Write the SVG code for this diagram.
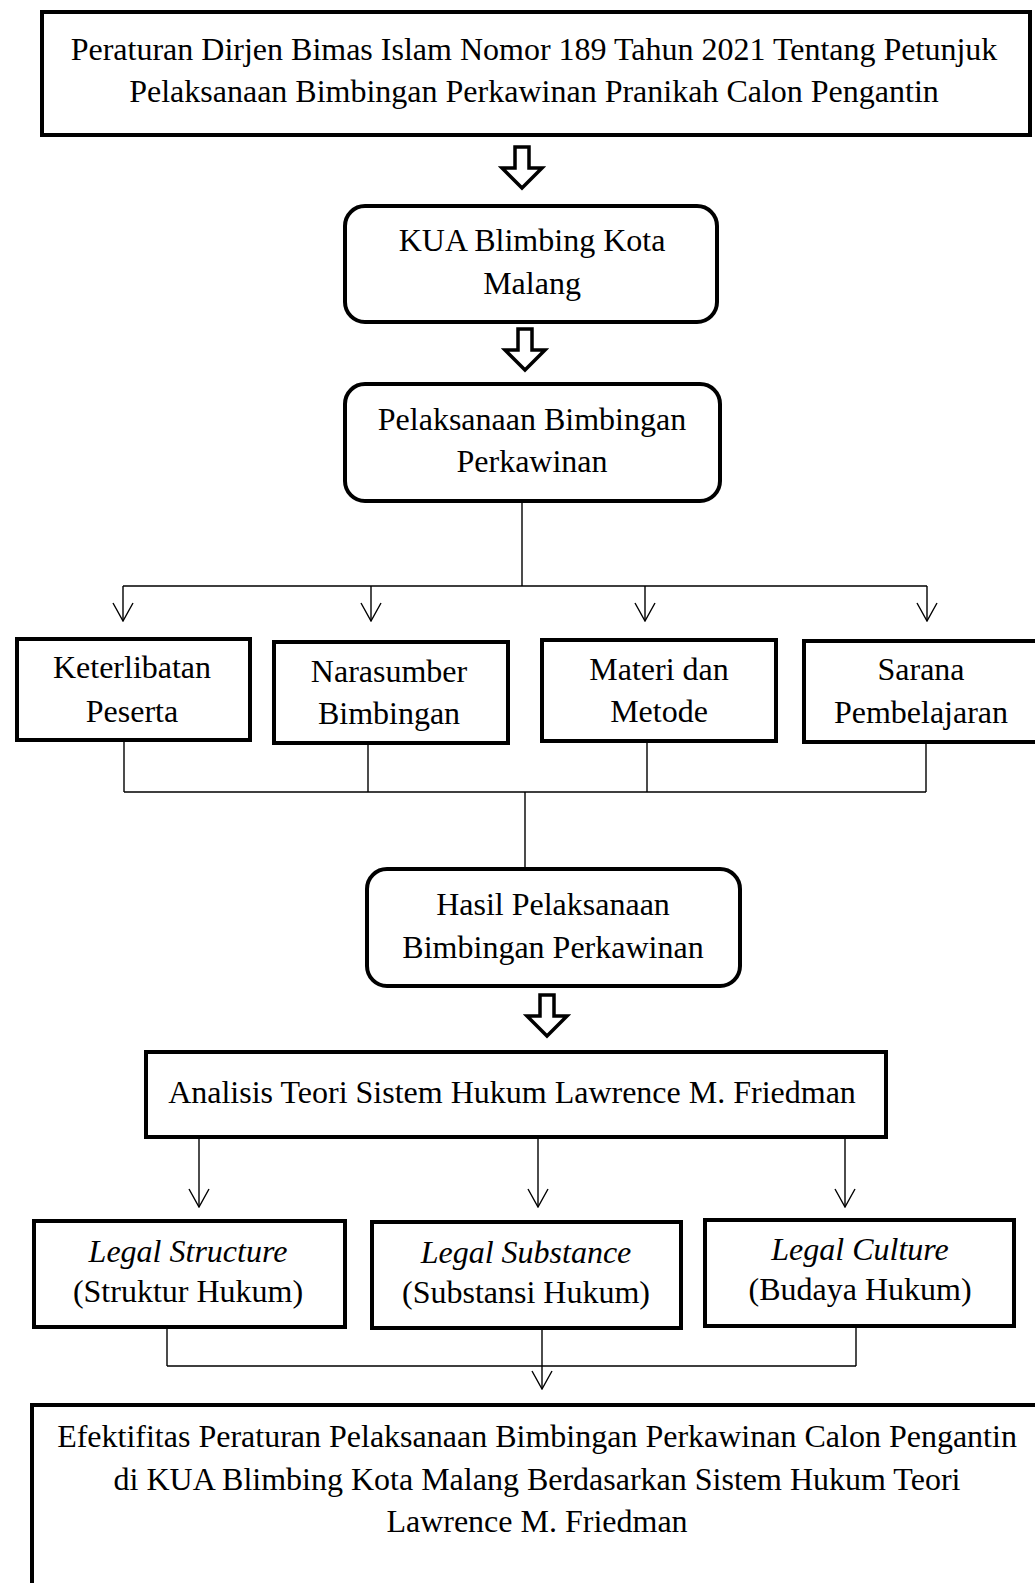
<svg xmlns="http://www.w3.org/2000/svg" width="1035" height="1583" viewBox="0 0 1035 1583">
<style>
text{font-family:"Liberation Serif","Times New Roman",serif;font-size:32px;fill:#000;text-anchor:middle}
.it{font-style:italic}
.box{fill:#fff;stroke:#000;stroke-width:4}
.rbox{fill:#fff;stroke:#000;stroke-width:4}
.ln{fill:none;stroke:#000;stroke-width:1.4}
.big{fill:#fff;stroke:#000;stroke-width:3.5;stroke-linejoin:miter}
</style>
<defs>
<marker id="ah" viewBox="0 0 20 22" refX="19" refY="11" markerWidth="20" markerHeight="22" markerUnits="userSpaceOnUse" orient="auto">
<path d="M1,1 L19,11 L1,21" fill="none" stroke="#000" stroke-width="1.4"/>
</marker>
<path id="hollow" d="M-7,0 H7 V21 H20 L0,41 L-20,21 H-7 Z"/>
</defs>
<rect width="1035" height="1583" fill="#fff"/>
<g id="connectors">
<use href="#hollow" class="big" transform="translate(522,147)"/>
<use href="#hollow" class="big" transform="translate(525,329)"/>
<use href="#hollow" class="big" transform="translate(547,995)"/>
<path class="ln" d="M522,503 V586 M123,586 H927"/>
<path class="ln" d="M123,586 V621" marker-end="url(#ah)"/>
<path class="ln" d="M371,586 V621" marker-end="url(#ah)"/>
<path class="ln" d="M645,586 V621" marker-end="url(#ah)"/>
<path class="ln" d="M927,586 V621" marker-end="url(#ah)"/>
<path class="ln" d="M124,742 V792 M368,745 V792 M647,743 V792 M926,744 V792 M124,792 H926 M525,792 V867"/>
<path class="ln" d="M199,1139 V1207" marker-end="url(#ah)"/>
<path class="ln" d="M538,1139 V1207" marker-end="url(#ah)"/>
<path class="ln" d="M845,1139 V1207" marker-end="url(#ah)"/>
<path class="ln" d="M167,1329 V1366 M856,1328 V1366 M167,1366 H856"/>
<path class="ln" d="M542,1330 V1389" marker-end="url(#ah)"/>
</g>
<g id="n-peraturan">
<rect class="box" x="42" y="12" width="988" height="123"/>
<text x="534" y="60">Peraturan Dirjen Bimas Islam Nomor 189 Tahun 2021 Tentang Petunjuk</text>
<text x="534" y="102">Pelaksanaan Bimbingan Perkawinan Pranikah Calon Pengantin</text>
</g>
<g id="n-kua">
<rect class="rbox" x="345" y="206" width="372" height="116" rx="20"/>
<text x="532" y="251">KUA Blimbing Kota</text>
<text x="532" y="294">Malang</text>
</g>
<g id="n-pelaksanaan">
<rect class="rbox" x="345" y="384" width="375" height="117" rx="20"/>
<text x="532" y="430">Pelaksanaan Bimbingan</text>
<text x="532" y="472">Perkawinan</text>
</g>
<g id="n-keterlibatan">
<rect class="box" x="17" y="639" width="233" height="101"/>
<text x="132" y="678">Keterlibatan</text>
<text x="132" y="722">Peserta</text>
</g>
<g id="n-narasumber">
<rect class="box" x="274" y="642" width="234" height="101"/>
<text x="389" y="682">Narasumber</text>
<text x="389" y="724">Bimbingan</text>
</g>
<g id="n-materi">
<rect class="box" x="542" y="640" width="234" height="101"/>
<text x="659" y="680">Materi dan</text>
<text x="659" y="722">Metode</text>
</g>
<g id="n-sarana">
<rect class="box" x="804" y="641" width="245" height="101"/>
<text x="921" y="680">Sarana</text>
<text x="921" y="723">Pembelajaran</text>
</g>
<g id="n-hasil">
<rect class="rbox" x="367" y="869" width="373" height="117" rx="20"/>
<text x="553" y="915">Hasil Pelaksanaan</text>
<text x="553" y="958">Bimbingan Perkawinan</text>
</g>
<g id="n-analisis">
<rect class="box" x="146" y="1052" width="740" height="85"/>
<text x="512" y="1103">Analisis Teori Sistem Hukum Lawrence M. Friedman</text>
</g>
<g id="n-structure">
<rect class="box" x="34" y="1221" width="311" height="106"/>
<text class="it" x="188" y="1262">Legal Structure</text>
<text x="188" y="1302">(Struktur Hukum)</text>
</g>
<g id="n-substance">
<rect class="box" x="372" y="1222" width="309" height="106"/>
<text class="it" x="526" y="1263">Legal Substance</text>
<text x="526" y="1303">(Substansi Hukum)</text>
</g>
<g id="n-culture">
<rect class="box" x="705" y="1220" width="309" height="106"/>
<text class="it" x="860" y="1260">Legal Culture</text>
<text x="860" y="1300">(Budaya Hukum)</text>
</g>
<g id="n-efektifitas">
<rect class="box" x="32" y="1405" width="1010" height="200"/>
<text x="537" y="1447">Efektifitas Peraturan Pelaksanaan Bimbingan Perkawinan Calon Pengantin</text>
<text x="537" y="1490">di KUA Blimbing Kota Malang Berdasarkan Sistem Hukum Teori</text>
<text x="537" y="1532">Lawrence M. Friedman</text>
</g>
</svg>
